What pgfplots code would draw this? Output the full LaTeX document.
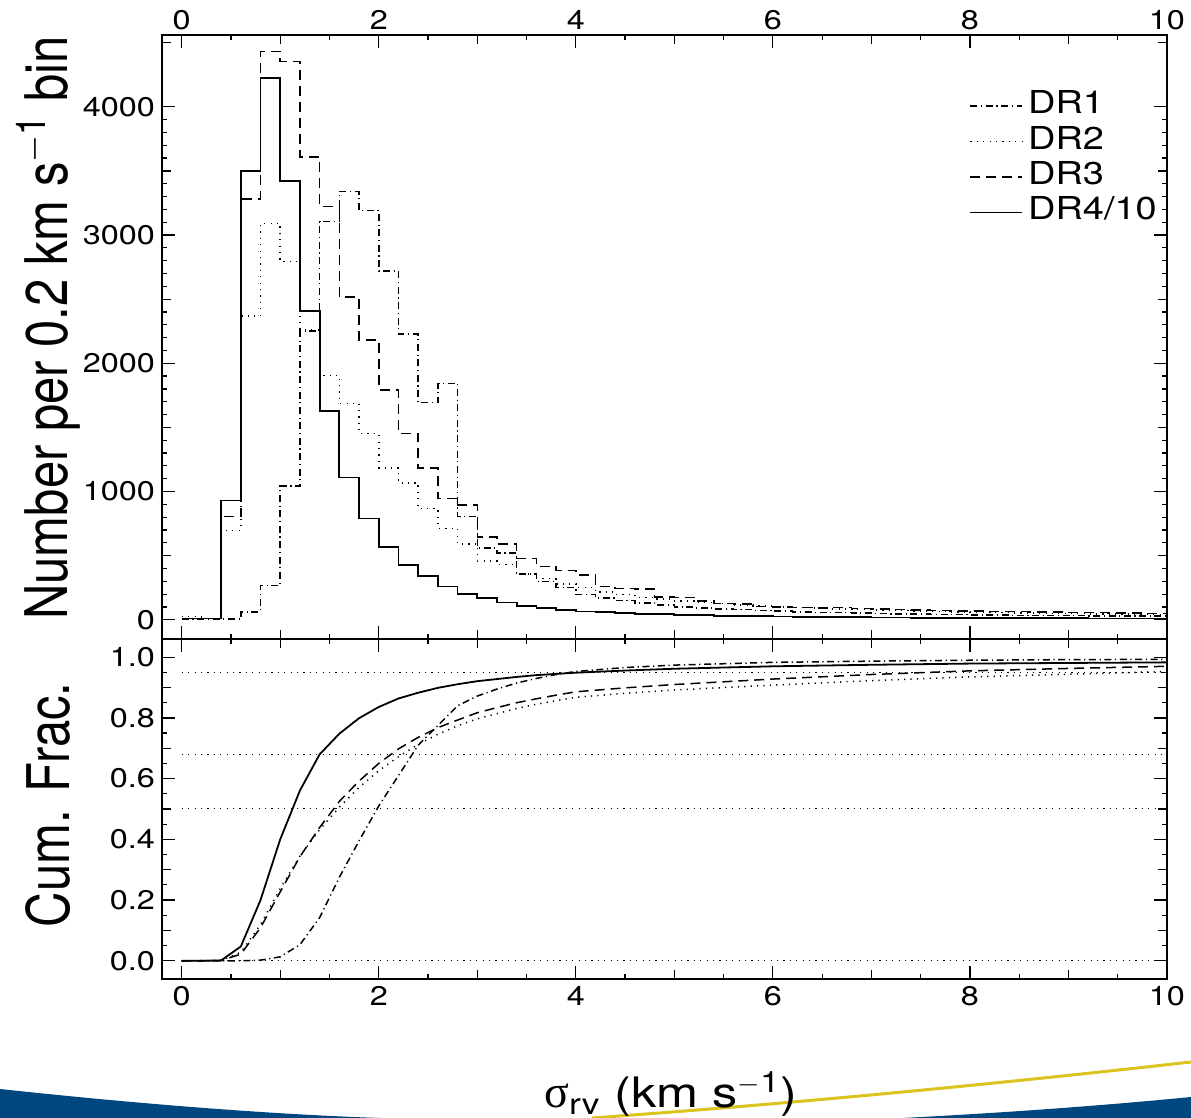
\documentclass[border=0pt]{standalone}
\usepackage{graphicx}
\usepackage{fontspec}
\setmainfont{TeX Gyre Heros}[FakeStretch=1.2]
\newfontfamily\plainhv{TeX Gyre Heros}
\newfontfamily\greek{Liberation Serif}
\usepackage{pgfplots}
\usepackage{pgfplotstable}
\pgfplotsset{compat=1.18}

\definecolor{bandblue}{RGB}{0,71,127}
\definecolor{bandyellow}{RGB}{220,196,30}

% histogram, 0.2 km/s bins (left edges)
\pgfplotstableread{
x    dr1   dr2   dr3   dr4
0.0  5     25    10    10
0.2  5     8     10    10
0.4  5     695   805   930
0.6  62    2370  3281  3500
0.8  266   3091  4432  4227
1.0  1042  2792  4354  3422
1.2  2252  2260  3609  2406
1.4  3104  1906  3221  1625
1.6  3338  1687  2518  1109
1.8  3190  1451  2182  789
2.0  2719  1185  1791  570
2.2  2227  1068  1453  424
2.4  1693  867   1185  339
2.6  1844  711   945   260
2.8  807   591   893   203
3.0  560   460   645   167
3.2  520   430   590   135
3.4  357   356   478   109
3.6  299   320   415   91
3.8  253   280   385   78
4.0  195   250   348   65
4.2  170   215   260   58
4.4  150   195   244   52
4.6  130   175   239   47
4.8  115   160   179   42
5.0  100   148   174   38
5.2  92    135   148   35
5.4  85    125   127   32
5.6  78    115   122   29
5.8  72    108   104   27
6.0  67    100   101   25
6.2  62    95    96    23
6.4  58    90    91    21
6.6  55    85    96    20
6.8  52    80    88    19
7.0  49    76    85    18
7.2  46    72    80    17
7.4  44    68    76    16
7.6  42    65    74    15
7.8  40    62    70    14
8.0  38    59    68    13
8.2  36    56    66    13
8.4  35    54    63    12
8.6  34    52    61    12
8.8  33    50    59    11
9.0  32    48    57    11
9.2  31    46    55    10
9.4  30    44    53    10
9.6  29    43    51    10
9.8  28    42    50    9
10.0 28    42    50    9
}\hist

% cumulative fractions
\pgfplotstableread{
x    dr1   dr2   dr3   dr4
0.0  0     0     0     0
0.2  0     0.001 0     0
0.4  0     0.001 0.001 0.001
0.6  0     0.028 0.022 0.047
0.8  0.002 0.119 0.109 0.200
1.0  0.013 0.238 0.227 0.400
1.2  0.053 0.345 0.343 0.561
1.4  0.142 0.432 0.439 0.680
1.6  0.275 0.506 0.525 0.748
1.8  0.395 0.571 0.592 0.799
2.0  0.510 0.626 0.650 0.836
2.2  0.610 0.672 0.698 0.864
2.4  0.710 0.713 0.736 0.883
2.6  0.775 0.746 0.768 0.899
2.8  0.840 0.774 0.793 0.911
3.0  0.872 0.797 0.817 0.921
3.2  0.895 0.814 0.834 0.928
3.4  0.915 0.831 0.850 0.935
3.6  0.930 0.845 0.863 0.941
3.8  0.943 0.857 0.875 0.945
4.0  0.953 0.868 0.886 0.949
4.5  0.966 0.881 0.899 0.956
5.0  0.974 0.892 0.910 0.962
6.0  0.983 0.908 0.928 0.970
7.0  0.987 0.923 0.943 0.975
8.0  0.990 0.935 0.955 0.979
9.0  0.992 0.944 0.963 0.981
10.0 0.993 0.953 0.970 0.983
}\cum

\pgfplotsset{
  panel/.style={
    scale only axis, width=502.5pt,
    xmin=-0.2, xmax=10,
    xtick={0,2,...,10}, minor x tick num=3,
    extra x ticks={1,3,5,7,9}, extra x tick labels={},
    xtick pos=both, ytick pos=both,
    tick align=inside, major tick length=6.5pt, minor tick length=2.5pt,
    extra tick style={major tick length=4.5pt},
    axis line style={line width=0.8pt},
    every tick/.style={black, line width=0.6pt},
    ticklabel style={font=\fontsize{13.5}{15}\selectfont},
    /pgf/number format/assume math mode=true,
    /pgf/number format/1000 sep={},
  },
  dr1/.style={black, line width=0.75pt, dash pattern=on 3.5pt off 1.8pt on 0.6pt off 1.8pt},
  dr2/.style={black, line width=0.75pt, dash pattern=on 0.6pt off 2.6pt},
  dr3/.style={black, line width=0.75pt, dash pattern=on 5pt off 3pt},
  dr4/.style={black, line width=0.9pt},
}

\begin{document}
\begin{tikzpicture}
\useasboundingbox (0,0) rectangle (595.5pt,559pt);

% slide background band
\fill[bandblue] (0,14.5pt) .. controls (60pt,8pt) and (130pt,2pt) .. (190pt,0) -- (0,0) -- cycle;
\fill[bandblue] (451.5pt,0) .. controls (510pt,3pt) and (560pt,7pt) .. (595.5pt,10.5pt) -- (595.5pt,0) -- cycle;
\draw[bandyellow, line width=1.5pt] (296pt,0) .. controls (380pt,6pt) and (480pt,15pt) .. (595.5pt,28pt);

\begin{axis}[panel,
    at={(81pt,239.5pt)}, anchor=south west, height=302pt,
    ymin=-150, ymax=4560,
    ytick={0,1000,...,4000}, minor y tick num=9,
    extra y ticks={500,1500,2500,3500,4500}, extra y tick labels={},
    xticklabel pos=upper,
    xticklabel style={yshift=-1pt},
    ylabel={\scalebox{1}[1.2]{\plainhv\fontsize{24.5}{28}\selectfont Number per 0.2 km s\textsuperscript{\(-\)1} bin}},
    ylabel style={at={(axis description cs:-0.1134,0.515)}, anchor=center},
    legend style={at={(axis description cs:0.803,0.912)}, anchor=north west,
      draw=none, fill=none, inner sep=0pt, row sep=0pt,
      font=\fontsize{15.8}{17}\selectfont,
      nodes={inner ysep=1.6pt, inner xsep=2.5pt, text height=11pt, text depth=3.5pt}},
    legend cell align=left,
    legend image code/.code={\draw[#1] (0pt,0pt) -- (26pt,0pt);},
]
\addplot[dr1, const plot mark left] table[x=x, y=dr1] {\hist};
\addplot[dr2, const plot mark left] table[x=x, y=dr2] {\hist};
\addplot[dr3, const plot mark left] table[x=x, y=dr3] {\hist};
\addplot[dr4, const plot mark left] table[x=x, y=dr4] {\hist};
\legend{DR1, DR2, DR3, DR4/10}
\end{axis}

\begin{axis}[panel,
    at={(81pt,69.5pt)}, anchor=south west, height=170pt,
    ymin=-0.06, ymax=1.06,
    ytick={0,0.2,...,1.0}, minor y tick num=3,
    extra y ticks={0.1,0.3,0.5,0.7,0.9}, extra y tick labels={},
    yticklabel style={/pgf/number format/.cd, fixed, fixed zerofill, precision=1},
    xticklabel pos=lower,
    ylabel={\scalebox{1}[1.2]{\plainhv\fontsize{24.5}{28}\selectfont Cum. Frac.}},
    ylabel style={at={(axis description cs:-0.1134,0.512)}, anchor=center},
]
\addplot[black, line width=0.5pt, dash pattern=on 0.6pt off 2.6pt] coordinates {(0,0) (10,0)};
\addplot[black, line width=0.5pt, dash pattern=on 0.6pt off 2.6pt] coordinates {(0,0.5) (10,0.5)};
\addplot[black, line width=0.5pt, dash pattern=on 0.6pt off 2.6pt] coordinates {(0,0.68) (10,0.68)};
\addplot[black, line width=0.5pt, dash pattern=on 0.6pt off 2.6pt] coordinates {(0,0.95) (10,0.95)};
\addplot[dr1] table[x=x, y=dr1] {\cum};
\addplot[dr2] table[x=x, y=dr2] {\cum};
\addplot[dr3] table[x=x, y=dr3] {\cum};
\addplot[dr4] table[x=x, y=dr4] {\cum};
\end{axis}

\node[anchor=base, font=\fontsize{21}{24}\selectfont] at (335.5pt,5pt)
  {{\greek\fontsize{23}{24}\selectfont σ}\textsubscript{rv} (km s\textsuperscript{\(-\)1})};
\end{tikzpicture}
\end{document}
